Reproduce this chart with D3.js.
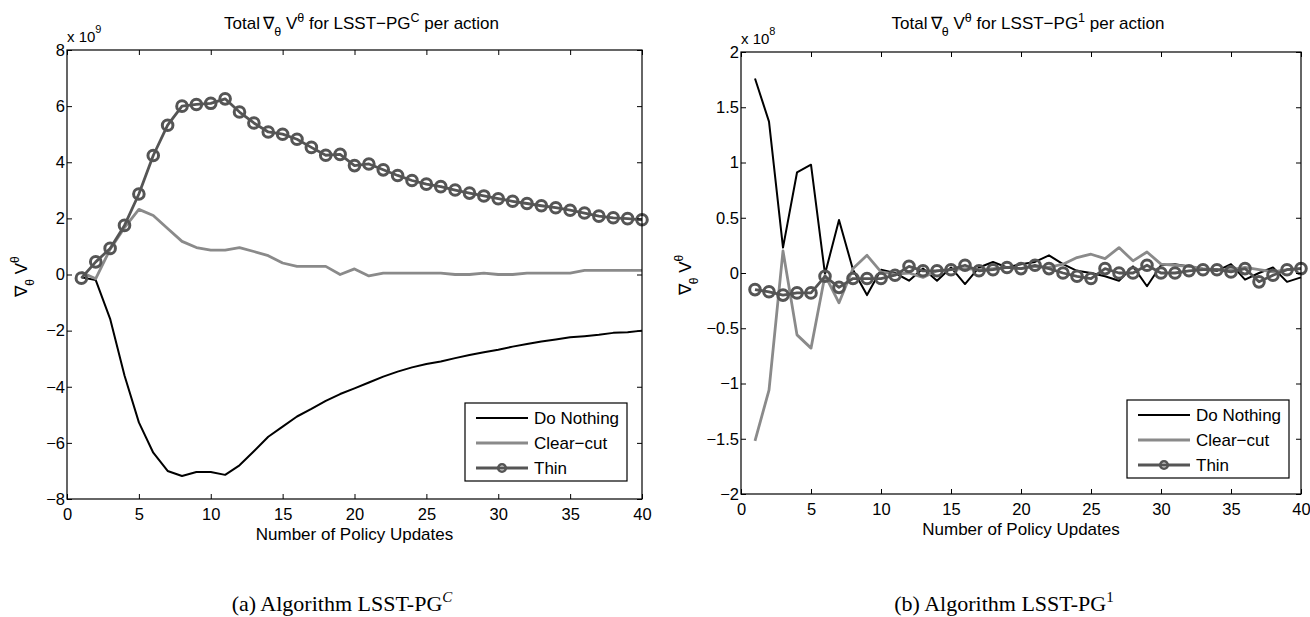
<!DOCTYPE html>
<html>
<head>
<meta charset="utf-8">
<script src="https://cdn.jsdelivr.net/npm/d3@7"></script>
<style>
  body { margin: 0; background: #fff; }
  svg text { font-family: "Liberation Sans", Arial, sans-serif; fill: #000; }
  .caption { font-family: "Liberation Serif", "Times New Roman", serif; }
</style>
</head>
<body>
<svg id="chart" width="1310" height="617"></svg>
<script>
// x axis: policy update index 1..40
const updates = d3.range(1, 41);
const seriesNames = ["Do Nothing", "Clear\u2212cut", "Thin"];

// panel (a), values in units of 1e9
const doNothingC = [-0.1, -0.2, -1.58, -3.6, -5.27, -6.35, -7.0, -7.18, -7.04, -7.04,
  -7.14, -6.8, -6.3, -5.78, -5.42, -5.06, -4.79, -4.5, -4.26, -4.06,
  -3.85, -3.64, -3.46, -3.31, -3.19, -3.1, -2.98, -2.87, -2.77, -2.68,
  -2.57, -2.48, -2.39, -2.32, -2.24, -2.2, -2.15, -2.08, -2.06, -2.0];
const clearCutC = [0.08, -0.15, 0.9, 1.67, 2.32, 2.1, 1.64, 1.18, 0.96, 0.87,
  0.87, 0.96, 0.82, 0.67, 0.41, 0.29, 0.29, 0.29, 0.0, 0.2,
  -0.05, 0.05, 0.05, 0.05, 0.05, 0.05, 0.0, 0.0, 0.05, 0.0,
  0.0, 0.05, 0.05, 0.05, 0.05, 0.15, 0.15, 0.15, 0.15, 0.15];
const thinC = [-0.13, 0.45, 0.93, 1.75, 2.87, 4.24, 5.32, 6.0, 6.06, 6.1,
  6.26, 5.79, 5.4, 5.08, 5.0, 4.82, 4.53, 4.25, 4.28, 3.88,
  3.94, 3.73, 3.53, 3.35, 3.22, 3.13, 3.01, 2.9, 2.8, 2.7,
  2.61, 2.53, 2.45, 2.38, 2.29, 2.19, 2.08, 2.02, 1.99, 1.95];

// panel (b), values in units of 1e8
const doNothing1 = [1.76, 1.37, 0.23, 0.91, 0.98, -0.01, 0.48, 0.03, -0.2, 0.03,
  0.0, -0.07, 0.04, -0.07, 0.05, -0.1, 0.05, 0.1, 0.05, 0.08,
  0.1, 0.16, 0.08, 0.02, 0.0, -0.03, -0.07, 0.06, -0.12, 0.07,
  0.08, 0.06, 0.03, 0.02, 0.08, -0.06, 0.0, 0.05, -0.08, -0.04];
const clearCut1 = [-1.52, -1.06, 0.2, -0.56, -0.68, -0.02, -0.27, 0.04, 0.16, 0.01,
  -0.01, 0.0, -0.04, 0.02, 0.03, 0.04, 0.03, 0.04, 0.05, 0.04,
  0.06, 0.05, 0.08, 0.14, 0.17, 0.13, 0.23, 0.11, 0.19, 0.08,
  0.07, 0.06, 0.04, 0.03, 0.03, 0.05, 0.03, 0.01, 0.03, 0.04];
const thin1 = [-0.15, -0.17, -0.2, -0.18, -0.18, -0.03, -0.13, -0.05, -0.05, -0.05,
  -0.02, 0.06, 0.02, 0.02, 0.03, 0.07, 0.02, 0.03, 0.05, 0.04,
  0.07, 0.04, 0.0, -0.03, -0.05, 0.04, 0.0, 0.0, 0.07, 0.0,
  0.0, 0.02, 0.03, 0.03, 0.01, 0.04, -0.08, -0.02, 0.03, 0.04];

const xTicks = d3.range(0, 41, 5);
const yTicksC = d3.range(-8, 9, 2);
const yTicks1 = [-2, -1.5, -1, -0.5, 0, 0.5, 1, 1.5, 2];

const colors = ["#000000", "#8a8a8a", "#555555"];
const widths = [2, 2.8, 2.8];

const svg = d3.select("#chart");

function fmt(v) {
  return String(v).replace("-", "\u2212");
}

function drawPanel(p) {
  const x = d3.scaleLinear().domain([0, 40]).range([p.left, p.right]);
  const y = d3.scaleLinear().domain(p.yDomain).range([p.bottom, p.top]);
  const g = svg.append("g");
  const w = p.right - p.left;
  const h = p.bottom - p.top;

  // lines
  const line = d3.line()
    .x((d, i) => x(updates[i]))
    .y(d => y(d));

  p.series.forEach(function (vals, k) {
    g.append("path")
      .attr("d", line(vals))
      .attr("fill", "none")
      .attr("stroke", colors[k])
      .attr("stroke-width", widths[k])
      .attr("stroke-linejoin", "round");
  });

  g.append("g")
    .selectAll("circle")
    .data(p.series[2])
    .enter()
    .append("circle")
    .attr("cx", (d, i) => x(updates[i]))
    .attr("cy", d => y(d))
    .attr("r", 5.3)
    .attr("fill", "none")
    .attr("stroke", colors[2])
    .attr("stroke-width", 3);

  // axes, MATLAB style box with inward ticks
  const bottomAxis = d3.axisBottom(x).tickValues(xTicks).tickSize(-5).tickPadding(9).tickFormat(fmt);
  const topAxis = d3.axisTop(x).tickValues(xTicks).tickSize(-5).tickFormat("");
  const leftAxis = d3.axisLeft(y).tickValues(p.yTicks).tickSize(-5).tickPadding(2).tickFormat(fmt);
  const rightAxis = d3.axisRight(y).tickValues(p.yTicks).tickSize(-5).tickFormat("");

  [
    [bottomAxis, `translate(0,${p.bottom})`],
    [topAxis, `translate(0,${p.top})`],
    [leftAxis, `translate(${p.left},0)`],
    [rightAxis, `translate(${p.right},0)`]
  ].forEach(function (a) {
    const ax = g.append("g").attr("transform", a[1]).call(a[0]);
    ax.select(".domain").remove();
    ax.selectAll(".tick line").attr("stroke", "#000").attr("stroke-width", 1);
    ax.selectAll("text").attr("font-size", 16.5).attr("fill", "#000")
      .attr("font-family", "Liberation Sans, Arial, sans-serif");
  });

  g.append("rect")
    .attr("x", p.left).attr("y", p.top)
    .attr("width", w).attr("height", h)
    .attr("fill", "none").attr("stroke", "#000").attr("stroke-width", 1.2);

  // exponent
  const ex = g.append("text").attr("x", p.left).attr("y", p.top - 8).attr("font-size", 15);
  ex.append("tspan").text("x 10");
  ex.append("tspan").attr("dy", -9).attr("font-size", 11).text(p.exponent);

  // title
  const t = g.append("text")
    .attr("x", (p.left + p.right) / 2 + 7)
    .attr("y", 29)
    .attr("text-anchor", "middle")
    .attr("font-size", 17);
  t.append("tspan").text("Total\u2009\u2207");
  t.append("tspan").attr("dy", 7).attr("font-size", 12.5).text("\u03b8");
  t.append("tspan").attr("dy", -7).text(" V");
  t.append("tspan").attr("dy", -7).attr("font-size", 12.5).text("\u03b8");
  t.append("tspan").attr("dy", 7).text(" for LSST\u2212PG");
  t.append("tspan").attr("dy", -7).attr("font-size", 12.5).text(p.titleSup);
  t.append("tspan").attr("dy", 7).text(" per action");

  // x label
  g.append("text")
    .attr("x", (p.left + p.right) / 2)
    .attr("y", p.bottom + 41)
    .attr("text-anchor", "middle")
    .attr("font-size", 17)
    .text("Number of Policy Updates");

  // y label
  const yl = g.append("text")
    .attr("transform", `translate(${p.left - p.ylabelGap},${(p.top + p.bottom) / 2 + 2}) rotate(-90)`)
    .attr("text-anchor", "middle")
    .attr("font-size", 17);
  yl.append("tspan").text("\u2207");
  yl.append("tspan").attr("dy", 7).attr("font-size", 12).text("\u03b8");
  yl.append("tspan").attr("dy", -7).text(" V");
  yl.append("tspan").attr("dy", -8).attr("font-size", 12).text("\u03b8");

  // legend
  const lg = g.append("g").attr("transform", `translate(${p.legend[0]},${p.legend[1]})`);
  lg.append("rect")
    .attr("width", 162).attr("height", 78)
    .attr("fill", "#fff").attr("stroke", "#000").attr("stroke-width", 1.2);
  seriesNames.forEach(function (name, k) {
    const ly = 15 + k * 25;
    lg.append("line")
      .attr("x1", 11).attr("x2", 63).attr("y1", ly).attr("y2", ly)
      .attr("stroke", colors[k]).attr("stroke-width", widths[k]);
    if (k === 2) {
      lg.append("circle").attr("cx", 37).attr("cy", ly).attr("r", 3.8)
        .attr("fill", "none").attr("stroke", colors[k]).attr("stroke-width", 2.6);
    }
    lg.append("text").attr("x", 69).attr("y", ly + 6).attr("font-size", 17).text(name);
  });

  // caption
  const cap = g.append("text")
    .attr("class", "caption")
    .attr("x", p.captionX)
    .attr("y", 611)
    .attr("text-anchor", "middle")
    .attr("font-size", 22);
  cap.append("tspan").text(p.caption);
  cap.append("tspan").attr("dy", -9).attr("font-size", 15)
    .attr("font-style", p.capItalic ? "italic" : "normal").text(p.titleSup);
}

drawPanel({
  left: 67, right: 642, top: 50, bottom: 499,
  yDomain: [-8, 8], yTicks: yTicksC, exponent: "9",
  series: [doNothingC, clearCutC, thinC],
  titleSup: "C", capItalic: true,
  caption: "(a) Algorithm LSST-PG",
  captionX: 342, ylabelGap: 40,
  legend: [465, 403]
});

drawPanel({
  left: 741, right: 1301, top: 52, bottom: 494,
  yDomain: [-2, 2], yTicks: yTicks1, exponent: "8",
  series: [doNothing1, clearCut1, thin1],
  titleSup: "1", capItalic: false,
  caption: "(b) Algorithm LSST-PG",
  captionX: 1004, ylabelGap: 50,
  legend: [1127, 400]
});
</script>
</body>
</html>
